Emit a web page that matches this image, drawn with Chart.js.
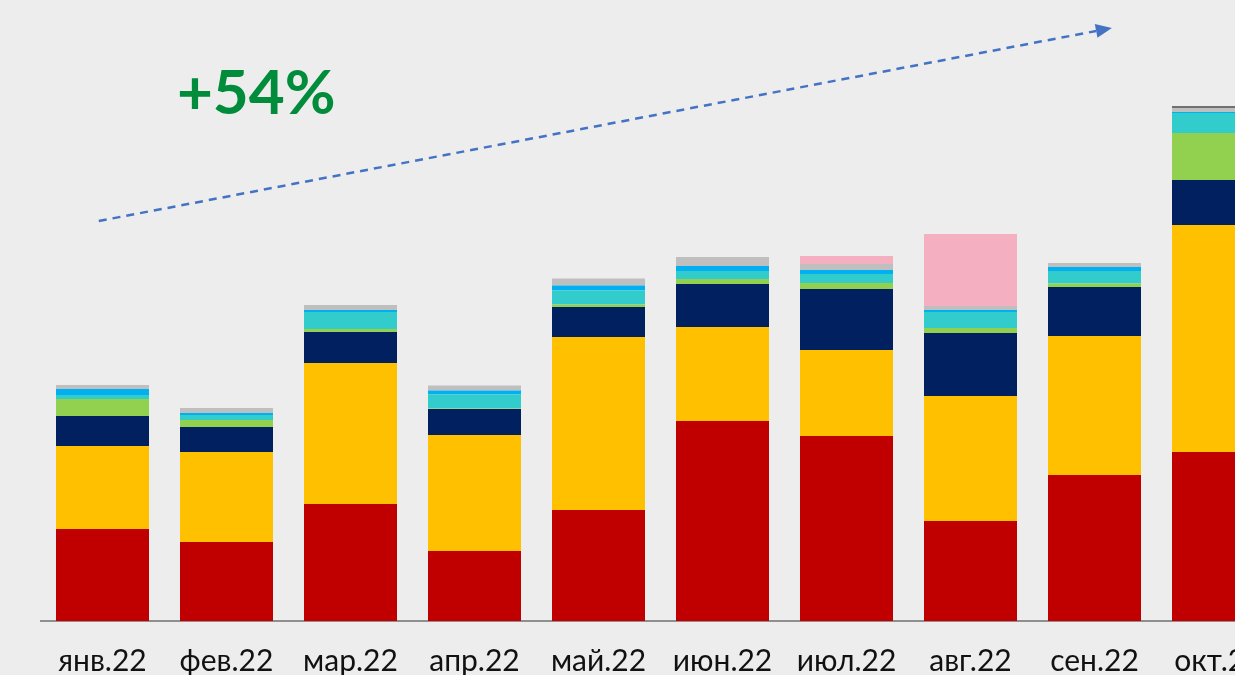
<!DOCTYPE html>
<html>
<head>
<meta charset="utf-8">
<script src="https://cdn.jsdelivr.net/npm/chart.js@4.4.1/dist/chart.umd.min.js"></script>
<style>
  html, body { margin: 0; padding: 0; background: #EDEDED; overflow: hidden; }
  #wrap { width: 1235px; height: 675px; overflow: hidden; position: relative; }
  canvas { display: block; }
</style>
</head>
<body>
<div id="wrap"><canvas id="c" width="1290" height="700"></canvas></div>
<script>
// months
const labels = ['янв.22', 'фев.22', 'мар.22', 'апр.22', 'май.22', 'июн.22', 'июл.22', 'авг.22', 'сен.22', 'окт.22'];

// series, bottom to top (units)
const redVals    = [92, 79, 117, 70, 111, 200, 185, 100, 146, 169];
const yellowVals = [83, 90, 141, 116, 173, 94, 86, 125, 139, 227];
const navyVals   = [30, 25, 31, 26, 30, 43, 61, 63, 49, 45];
const greenVals  = [17, 7, 3, 0.5, 2.5, 5, 6, 5, 3.5, 47];
const tealVals   = [4, 5, 17, 14, 14, 8, 9, 16, 12.5, 20];
const blueVals   = [6, 2, 2, 4, 5, 5, 4, 2, 4, 1];
const grayVals   = [4, 5, 5, 5, 7, 9, 6, 4, 4, 4];
const pinkVals   = [0, 0, 0, 0, 0, 0, 8, 72, 0, 0];
const darkVals   = [0, 0, 0, 0, 0, 0, 0, 0, 0, 2];

const yMax = 621;

// trend arrow in data units: [category index, value]
const arrowFrom = [-0.03, 400];
const arrowTo = [8.14, 593];
const growthText = '+54%';
const growthAt = [0.6, 507];

const series = [
    ['red', redVals, '#C00000'],
    ['yellow', yellowVals, '#FFC000'],
    ['navy', navyVals, '#002060'],
    ['green', greenVals, '#92D050'],
    ['teal', tealVals, '#33CCCC'],
    ['blue', blueVals, '#00B0F0'],
    ['gray', grayVals, '#BFBFBF'],
    ['pink', pinkVals, '#F4B0C0'],
    ['dark', darkVals, '#707070']
];

const trendPlugin = {
    id: 'trend',
    afterDraw(chart) {
        const { ctx, scales: { x, y } } = chart;
        const px = (i) => x.getPixelForValue(0) + i * (x.getPixelForValue(1) - x.getPixelForValue(0));
        const x1 = px(arrowFrom[0]), y1 = y.getPixelForValue(arrowFrom[1]);
        const x2 = px(arrowTo[0]), y2 = y.getPixelForValue(arrowTo[1]);
        const ang = Math.atan2(y2 - y1, x2 - x1);
        const head = 16;
        ctx.save();
        ctx.strokeStyle = '#4472C4';
        ctx.fillStyle = '#4472C4';
        ctx.lineWidth = 2.5;
        ctx.setLineDash([8, 6]);
        ctx.beginPath();
        ctx.moveTo(x1, y1);
        ctx.lineTo(x2 - head * Math.cos(ang), y2 - head * Math.sin(ang));
        ctx.stroke();
        ctx.setLineDash([]);
        ctx.beginPath();
        ctx.moveTo(x2, y2);
        ctx.lineTo(x2 - head * Math.cos(ang) + 7 * Math.sin(ang), y2 - head * Math.sin(ang) - 7 * Math.cos(ang));
        ctx.lineTo(x2 - head * Math.cos(ang) - 7 * Math.sin(ang), y2 - head * Math.sin(ang) + 7 * Math.cos(ang));
        ctx.closePath();
        ctx.fill();

        ctx.fillStyle = '#008C3A';
        ctx.font = 'bold 62px Lato, "Noto Sans", sans-serif';
        ctx.textBaseline = 'alphabetic';
        ctx.textAlign = 'left';
        ctx.fillText(growthText, px(growthAt[0]), y.getPixelForValue(growthAt[1]));
        ctx.restore();
    }
};

new Chart(document.getElementById('c').getContext('2d'), {
    type: 'bar',
    data: {
        labels,
        datasets: series.map(([name, data, color]) => ({
            label: name,
            data,
            backgroundColor: color,
            borderWidth: 0,
            categoryPercentage: 1,
            barPercentage: 0.75
        }))
    },
    options: {
        responsive: false,
        animation: false,
        devicePixelRatio: 1,
        layout: { padding: { left: 40.5, right: 9.5, top: 0, bottom: 0 } },
        plugins: { legend: { display: false }, tooltip: { enabled: false } },
        scales: {
            x: {
                stacked: true,
                grid: { display: false },
                border: { display: true, color: '#8F8F8F', width: 2 },
                ticks: {
                    color: '#111111',
                    font: { family: 'Lato, "Noto Sans", sans-serif', size: 30 },
                    padding: 14,
                    maxRotation: 0,
                    autoSkip: false
                },
                afterFit: (s) => { s.height = 79; }
            },
            y: {
                stacked: true,
                display: false,
                min: 0,
                max: yMax
            }
        }
    },
    plugins: [trendPlugin]
});
</script>
</body>
</html>
